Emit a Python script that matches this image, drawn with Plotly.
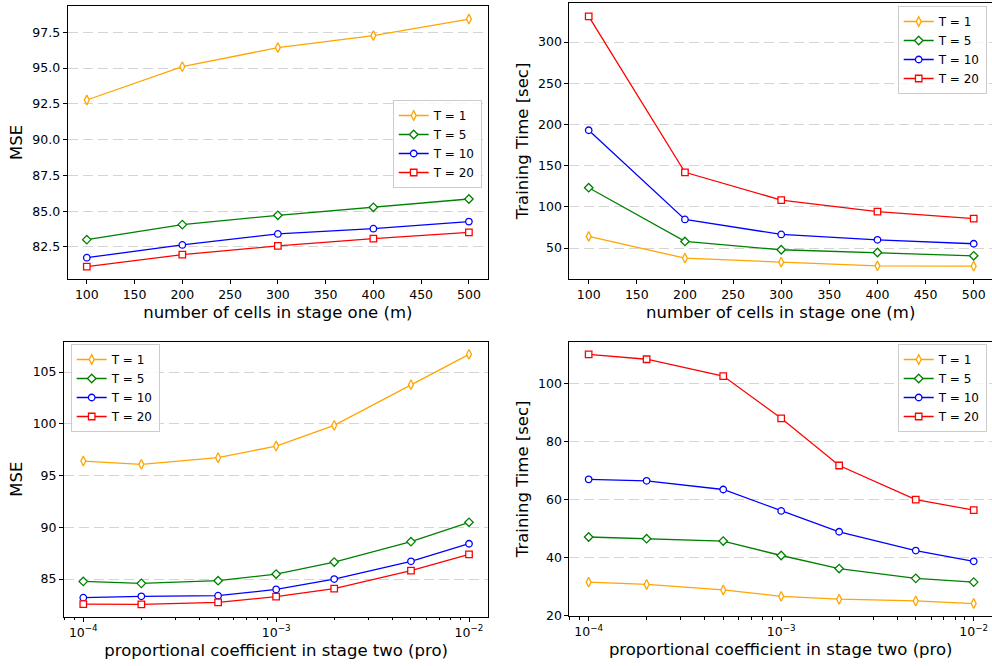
import plotly.graph_objects as go

# ---------------- data ----------------
m_cells = [100, 200, 300, 400, 500]
pro_vals = [1e-4, 2e-4, 5e-4, 1e-3, 2e-3, 5e-3, 1e-2]
series_names = ["T = 1", "T = 5", "T = 10", "T = 20"]

mse_m_T1 = [92.77, 95.10, 96.43, 97.27, 98.43]
mse_m_T5 = [83.01, 84.06, 84.71, 85.27, 85.85]
mse_m_T10 = [81.75, 82.64, 83.41, 83.78, 84.27]
mse_m_T20 = [81.12, 81.96, 82.57, 83.08, 83.52]

time_m_T1 = [64.2, 37.8, 33.0, 28.5, 28.1]
time_m_T5 = [123.3, 58.1, 48.0, 44.7, 40.7]
time_m_T10 = [193.0, 84.8, 66.6, 60.1, 55.3]
time_m_T20 = [331.2, 142.0, 108.3, 94.2, 85.7]

mse_p_T1 = [96.40, 96.08, 96.72, 97.85, 99.85, 103.78, 106.71]
mse_p_T5 = [84.77, 84.58, 84.84, 85.48, 86.64, 88.61, 90.48]
mse_p_T10 = [83.20, 83.33, 83.39, 84.00, 85.00, 86.71, 88.41]
mse_p_T20 = [82.58, 82.55, 82.75, 83.29, 84.07, 85.81, 87.38]

time_p_T1 = [31.4, 30.6, 28.7, 26.5, 25.5, 24.9, 24.0]
time_p_T5 = [47.0, 46.4, 45.6, 40.6, 36.1, 32.7, 31.4]
time_p_T10 = [66.9, 66.4, 63.4, 56.0, 48.8, 42.3, 38.6]
time_p_T20 = [110.1, 108.4, 102.6, 88.0, 71.7, 59.9, 56.3]

log_tickvals = [1e-4, 1e-3, 1e-2]
log_ticktext = ["10<sup>\u22124</sup>", "10<sup>\u22123</sup>", "10<sup>\u22122</sup>"]

# ---------------- styles ----------------
colors = ["#FFA500", "#008000", "#0000FF", "#FF0000"]
symbols = ["diamond-tall", "diamond", "circle", "square"]
msizes = [7, 6.5, 6.5, 6.5]
FONT = "DejaVu Sans"
W, H = 992, 666

fig = go.Figure()

panels = [
    (m_cells, [mse_m_T1, mse_m_T5, mse_m_T10, mse_m_T20], "x", "y", "legend"),
    (m_cells, [time_m_T1, time_m_T5, time_m_T10, time_m_T20], "x2", "y2", "legend2"),
    (pro_vals, [mse_p_T1, mse_p_T5, mse_p_T10, mse_p_T20], "x3", "y3", "legend3"),
    (pro_vals, [time_p_T1, time_p_T5, time_p_T10, time_p_T20], "x4", "y4", "legend4"),
]

for xs, ys_list, xa, ya, lg in panels:
    for i, ys in enumerate(ys_list):
        fig.add_trace(go.Scatter(
            x=xs, y=ys, mode="lines+markers", name=series_names[i],
            xaxis=xa, yaxis=ya, legend=lg,
            line=dict(color=colors[i], width=1.3),
            marker=dict(symbol=symbols[i], size=msizes[i], color="white",
                        line=dict(color=colors[i], width=1.3)),
        ))

tickfont = dict(family=FONT, size=12.5, color="black")
titlefont = dict(family=FONT, size=16.5, color="black")
grid = dict(showgrid=True, gridcolor="#d5d5d5", gridwidth=1.2, griddash="10px,5px")


def xax(domain, rng, title, log=False, mirror=True):
    d = dict(domain=domain, range=rng, showline=True, linecolor="black", linewidth=1,
             mirror=mirror, ticks="outside", ticklen=4, tickwidth=1, tickcolor="black",
             tickfont=tickfont, showgrid=False, zeroline=False, automargin=False,
             title=dict(text=title, font=titlefont, standoff=5))
    if log:
        d.update(type="log", tickvals=log_tickvals, ticktext=log_ticktext,
                 minor=dict(ticks="outside", ticklen=2.5, tickcolor="black", dtick="D1",
                            showgrid=False))
    else:
        d.update(tick0=100, dtick=50)
    return d


def yax(domain, rng, title, anchor, dtick, tick0, mirror=True, fmt=None):
    d = dict(domain=domain, range=rng, anchor=anchor, showline=True, linecolor="black",
             linewidth=1, mirror=mirror, ticks="outside", ticklen=4, tickwidth=1,
             tickcolor="black", tickfont=tickfont, zeroline=False, automargin=False,
             dtick=dtick, tick0=tick0,
             title=dict(text=title, font=titlefont, standoff=5))
    if fmt:
        d["tickformat"] = fmt
    d.update(grid)
    return d


yt_top_l = [1 - 279 / H, 1 - 6 / H]
yt_top_r = [1 - 278.7 / H, 1 - 3.3 / H]
yt_bot_l = [1 - 616.7 / H, 1 - 341.7 / H]
yt_bot_r = [1 - 616 / H, 1 - 341.7 / H]
xl_top = [67.7 / W, 488 / W]
xr = [569.4 / W, 1.0]
xl_bot = [64 / W, 488.3 / W]

fig.update_layout(
    template="none",
    width=W, height=H, margin=dict(l=0, r=0, t=0, b=0, pad=0),
    paper_bgcolor="white", plot_bgcolor="white",
    font=dict(family=FONT, color="black"),
    xaxis=dict(xax(xl_top, [80, 520], "number of cells in stage one (m)"), anchor="y"),
    yaxis=yax(yt_top_l, [80.26, 99.34], "MSE", "x", 2.5, 80, fmt=".1f"),
    xaxis2=dict(xax(xr, [79.95, 519.0], "number of cells in stage one (m)"), anchor="y2"),
    yaxis2=yax(yt_top_r, [12.9, 347.0], "Training Time [sec]", "x2", 50, 0, mirror=False),
    xaxis3=dict(xax(xl_bot, [-4.1, -1.9], "proportional coefficient in stage two (pro)", log=True), anchor="y3"),
    yaxis3=yax(yt_bot_l, [81.36, 107.93], "MSE", "x3", 5, 0),
    xaxis4=dict(xax(xr, [-4.1, -1.905], "proportional coefficient in stage two (pro)", log=True), anchor="y4"),
    yaxis4=yax(yt_bot_r, [19.7, 114.46], "Training Time [sec]", "x4", 20, 0, mirror=False),
)

leg_common = dict(bgcolor="rgba(255,255,255,0.8)", bordercolor="#cccccc", borderwidth=1,
                  font=dict(family=FONT, size=12, color="black"), itemwidth=30,
                  tracegroupgap=0)
fig.update_layout(
    legend=dict(leg_common, x=481.7 / W, xanchor="right", y=1 - 100 / H, yanchor="top"),
    legend2=dict(leg_common, x=986.7 / W, xanchor="right", y=1 - 6 / H, yanchor="top"),
    legend3=dict(leg_common, x=70.7 / W, xanchor="left", y=1 - 344 / H, yanchor="top"),
    legend4=dict(leg_common, x=986.7 / W, xanchor="right", y=1 - 344 / H, yanchor="top"),
)

fig.write_html(
    "out.html",
    config={"displayModeBar": False},
    post_script=["document.body.style.margin='0px';document.body.style.overflow='hidden';"],
)
